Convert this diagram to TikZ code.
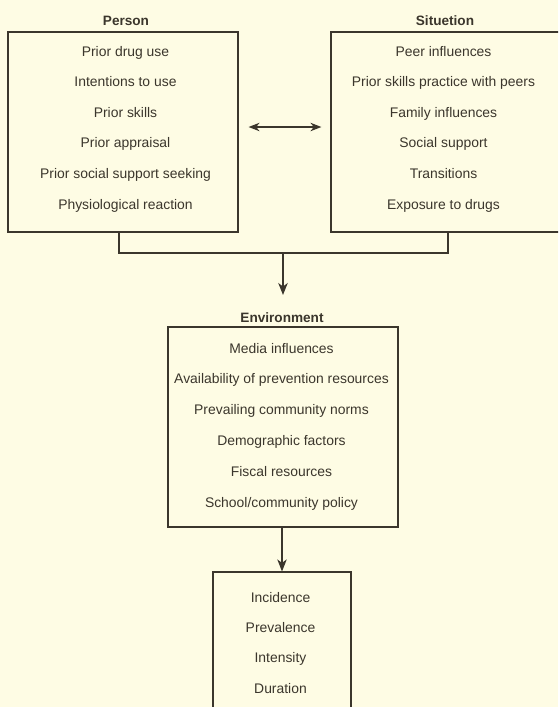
\documentclass[tikz,border=0pt]{standalone}
\usepackage{fontspec}
\setmainfont{Liberation Sans}
\usetikzlibrary{arrows.meta,calc}
\definecolor{bg}{HTML}{FEFCE4}
\definecolor{ink}{HTML}{3B362C}
\tikzset{
  frame/.style={draw=ink, line width=1.2pt, rectangle, inner sep=0pt},
  item/.style={text=ink, font=\fontsize{13.9}{16}\selectfont, anchor=base, inner sep=0pt},
  title/.style={text=ink, font=\bfseries\fontsize{13.6}{16}\selectfont, anchor=base, inner sep=0pt},
  link/.style={draw=ink, line width=1.2pt},
  arr/.style={link, -{Stealth[length=12pt,width=9.5pt,inset=3.5pt]}},
  darr/.style={link, {Stealth[length=11pt,width=8.5pt,inset=3.5pt]}-{Stealth[length=11pt,width=8.5pt,inset=3.5pt]}},
}
\begin{document}
\begin{tikzpicture}[x=1pt,y=-1pt]
\path[use as bounding box] (0,0) rectangle (558,707);
\clip (0,0) rectangle (558,707);
\fill[bg] (0,0) rectangle (558,707);

% frames
\node[frame, minimum width=230pt, minimum height=200pt] (person) at (123,132) {};
\node[frame, minimum width=240pt, minimum height=200pt] (situ) at (451,132) {};
\node[frame, minimum width=230pt, minimum height=200pt] (env) at (283,427) {};
\node[frame, minimum width=138pt, minimum height=160pt] (out) at (282,652) {};

% titles
\node[title] (tperson) at (126,25) {Person};
\node[title] (tsitu) at (445,25) {Situetion};
\node[title] (tenv) at (282,322) {Environment};

% items
\foreach \t [count=\i] in {Prior drug use, Intentions to use, Prior skills, Prior appraisal, Prior social support seeking, Physiological reaction}
  \node[item] (p\i) at (125.5,{56+30.6*(\i-1)}) {\t};
\foreach \t [count=\i] in {Peer influences, Prior skills practice with peers, Family influences, Social support, Transitions, Exposure to drugs}
  \node[item] (s\i) at (443.5,{56+30.6*(\i-1)}) {\t};
\foreach \t [count=\i] in {Media influences, Availability of prevention resources, Prevailing community norms, Demographic factors, Fiscal resources, School/community policy}
  \node[item] (e\i) at (281.5,{353+30.8*(\i-1)}) {\t};
\foreach \t [count=\i] in {Incidence, Prevalence, Intensity, Duration}
  \node[item] (o\i) at (280.5,{602+30.4*(\i-1)}) {\t};

% connectors
\coordinate (join) at (283,253);
\coordinate (envin) at (283,295);
\draw[link] ([xshift=-4pt]person.south) |- (join) -| ([xshift=-3pt]situ.south);
\draw[arr] (join) -- (envin);
\draw[arr] (env.south -| out.north) -- (out.north);
\draw[darr] ([xshift=10pt,yshift=5pt]person.east) -- ([xshift=-9pt,yshift=5pt]situ.west);
\end{tikzpicture}
\end{document}
